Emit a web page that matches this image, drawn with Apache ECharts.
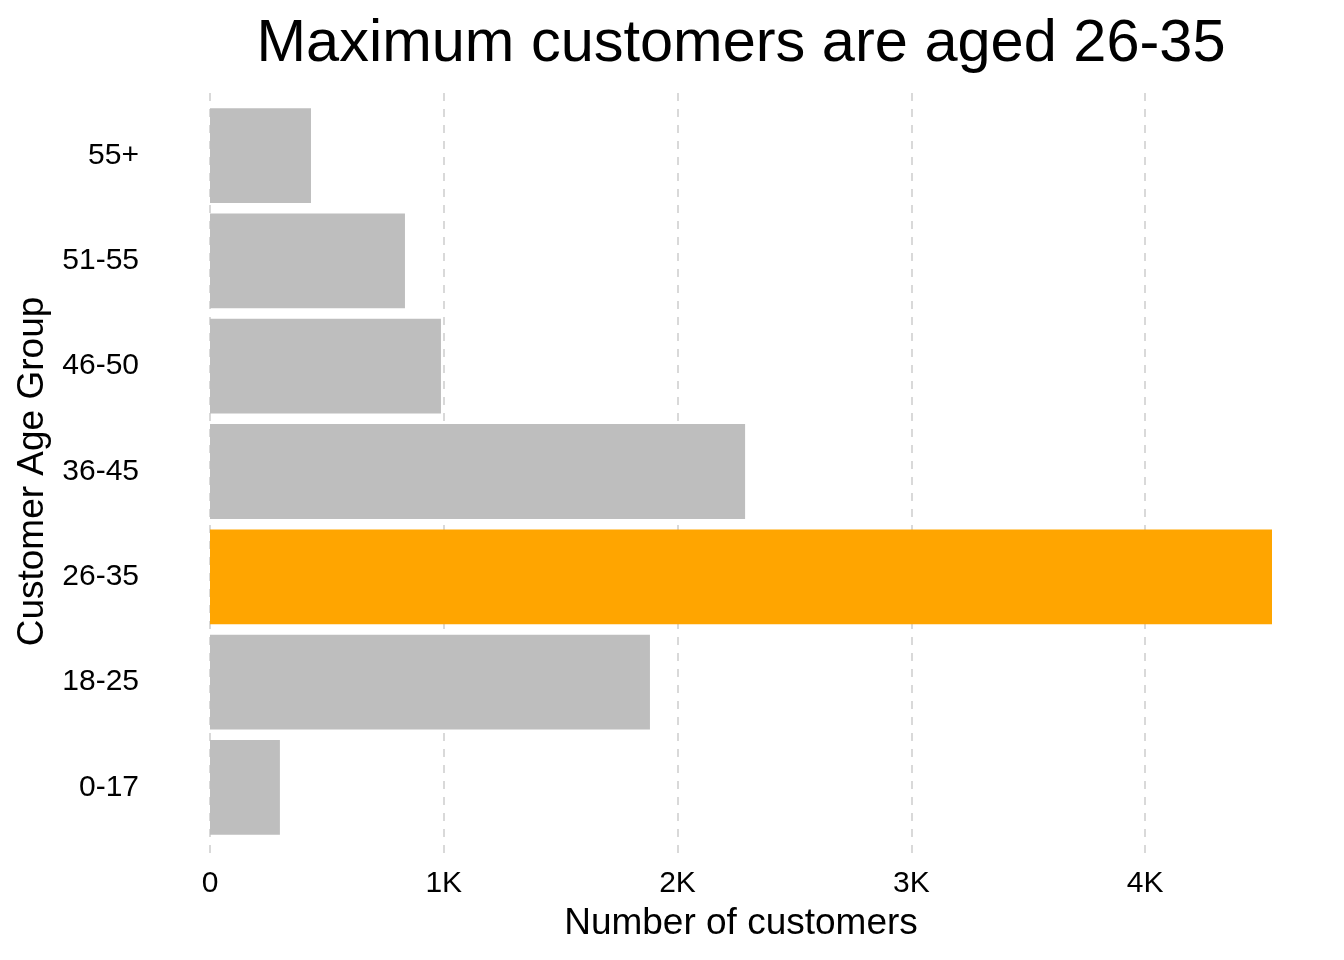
<!DOCTYPE html>
<html lang="en">
<head>
  <meta charset="UTF-8" />
  <title>Customers by age group</title>
  <style>
    html, body { margin: 0; padding: 0; background: #fff; }
    #chart { width: 1344px; height: 960px; }
  </style>
</head>
<body>
  <div id="chart"></div>
  <script src="https://cdn.jsdelivr.net/npm/echarts@6/dist/echarts.min.js"></script>
  <script>
    // age groups, bottom to top as in the picture
    const ageGroups = ['0-17', '18-25', '26-35', '36-45', '46-50', '51-55', '55+'];
    const customers = [299, 1882, 4543, 2289, 988, 834, 432];
    const highlightGroup = '26-35';
    const xMax = 4543;

    const font = 'Liberation Sans, Arial, sans-serif';
    const chart = echarts.init(document.getElementById('chart'));

    const option = {
      backgroundColor: '#fff',
      animation: false,
      title: {
        text: 'Maximum customers are aged 26-35',
        left: 736,
        top: 10,
        textAlign: 'center',
        textStyle: { fontFamily: font, fontSize: 59.5, fontWeight: 'normal', color: '#000' }
      },
      grid: [
        // panel for the dashed grid lines
        { left: 210, right: 72, top: 93, bottom: 100 },
        // bars
        { left: 210, right: 72, top: 103, bottom: 120 }
      ],
      xAxis: [
        {
          gridIndex: 0,
          type: 'value',
          min: 0,
          max: xMax,
          interval: 1000,
          axisLine: { show: false },
          axisTick: { show: false },
          axisLabel: {
            showMaxLabel: false,
            margin: 9,
            fontFamily: font,
            fontSize: 30,
            color: '#000',
            formatter: v => v === 0 ? '0' : (v / 1000) + 'K'
          },
          splitLine: {
            show: true,
            showMaxLine: false,
            lineStyle: { color: '#d9d9d9', width: 2, type: [8, 8] }
          },
          name: 'Number of customers',
          nameLocation: 'middle',
          nameGap: 45,
          nameTextStyle: { fontFamily: font, fontSize: 37, color: '#000' }
        },
        {
          gridIndex: 1,
          type: 'value',
          min: 0,
          max: xMax,
          show: false,
          splitLine: { show: false }
        }
      ],
      yAxis: [
        {
          gridIndex: 0,
          type: 'value',
          show: false,
          splitLine: { show: false }
        },
        {
          gridIndex: 1,
          type: 'category',
          data: ageGroups,
          axisLine: { show: false },
          axisTick: { show: false },
          axisLabel: {
            margin: 71,
            padding: [10, 0, 0, 0],
            fontFamily: font,
            fontSize: 30,
            color: '#000'
          },
          name: 'Customer Age Group',
          nameLocation: 'middle',
          nameRotate: 90,
          nameGap: 156,
          nameTextStyle: { fontFamily: font, fontSize: 37, color: '#000' }
        }
      ],
      series: [
        {
          type: 'bar',
          xAxisIndex: 1,
          yAxisIndex: 1,
          barWidth: '90%',
          data: customers.map((v, i) => ({
            value: v,
            itemStyle: { color: ageGroups[i] === highlightGroup ? '#ffa500' : '#bebebe' }
          }))
        }
      ]
    };

    chart.setOption(option);
  </script>
</body>
</html>
